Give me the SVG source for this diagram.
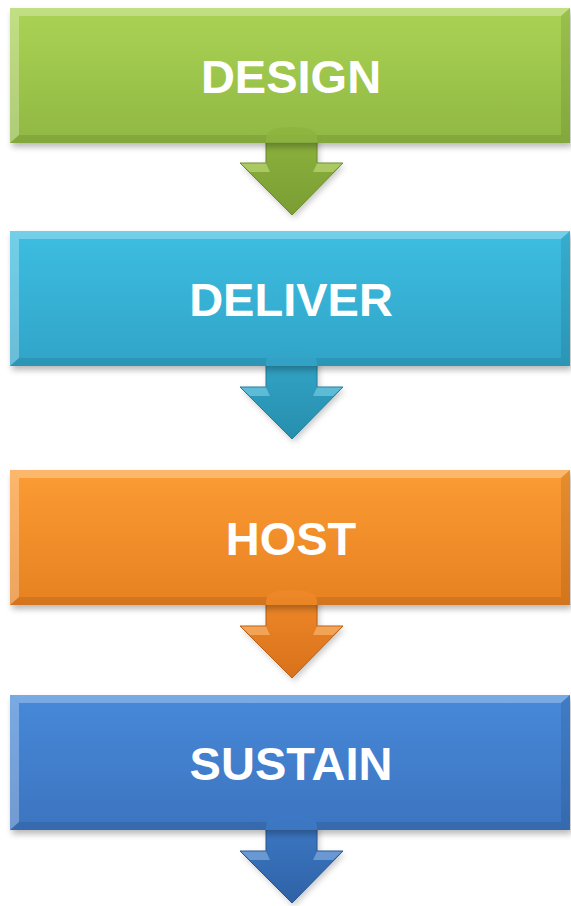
<svg xmlns="http://www.w3.org/2000/svg" width="571" height="906" viewBox="0 0 571 906">
<defs>
<style>
.lbl{font-family:"Liberation Sans",Arial,sans-serif;font-weight:bold;font-size:47px;fill:#ffffff;text-anchor:middle}
.bl{fill:#ffffff;opacity:0.28}
.bd{fill:#000000;opacity:0.09}
</style>
<filter id="sh" x="-10%" y="-20%" width="120%" height="150%">
<feGaussianBlur stdDeviation="3"/>
</filter>
<linearGradient id="gG" x1="0" y1="0" x2="0" y2="1"><stop offset="0" stop-color="#aad355"/><stop offset="1" stop-color="#90b843"/></linearGradient>
<linearGradient id="gC" x1="0" y1="0" x2="0" y2="1"><stop offset="0" stop-color="#3dbee1"/><stop offset="1" stop-color="#30a4c8"/></linearGradient>
<linearGradient id="gO" x1="0" y1="0" x2="0" y2="1"><stop offset="0" stop-color="#fb9c34"/><stop offset="1" stop-color="#e78121"/></linearGradient>
<linearGradient id="gB" x1="0" y1="0" x2="0" y2="1"><stop offset="0" stop-color="#4789d9"/><stop offset="1" stop-color="#3c74bf"/></linearGradient>
<linearGradient id="aG" x1="0" y1="0" x2="0" y2="1"><stop offset="0" stop-color="#8db43f"/><stop offset="1" stop-color="#7b9d33"/></linearGradient>
<linearGradient id="aC" x1="0" y1="0" x2="0" y2="1"><stop offset="0" stop-color="#33a6c9"/><stop offset="1" stop-color="#278ead"/></linearGradient>
<linearGradient id="aO" x1="0" y1="0" x2="0" y2="1"><stop offset="0" stop-color="#f08a2a"/><stop offset="1" stop-color="#d8711a"/></linearGradient>
<linearGradient id="aB" x1="0" y1="0" x2="0" y2="1"><stop offset="0" stop-color="#3d7ac6"/><stop offset="1" stop-color="#2f62a6"/></linearGradient>
<path id="arrow" d="M266,21 L266,-4 Q266,-15 291.5,-15 Q317,-15 317,-4 L317,21 L343,21 L292,73 L240,21 Z"/>
<path id="ahl" d="M241,21.5 L266,21.5 L270,30 L250,30 Z M342,21.5 L317,21.5 L313,30 L333,30 Z"/>
<g id="bevel">
<polygon class="bl" points="0,0 560,0 551,8 9,8"/>
<polygon class="bl" points="0,0 9,8 9,127 0,135" opacity="0.12"/>
<polygon class="bd" points="560,0 560,135 551,127 551,8"/>
<polygon class="bd" points="0,135 560,135 551,127 9,127"/>
</g>
</defs>

<g id="connectors">
<g id="arrow1" transform="translate(0,142)">
<use href="#arrow" transform="translate(2,3)" fill="#000" opacity="0.22" filter="url(#sh)"/>
<use href="#arrow" fill="url(#aG)" stroke="#6d8c2c" stroke-width="1"/>
<use href="#ahl" fill="#d2ea8c" opacity="0.5"/>
</g>
<g id="arrow2" transform="translate(0,366)">
<use href="#arrow" transform="translate(2,3)" fill="#000" opacity="0.22" filter="url(#sh)"/>
<use href="#arrow" fill="url(#aC)" stroke="#237f9b" stroke-width="1"/>
<use href="#ahl" fill="#8fdcf2" opacity="0.5"/>
</g>
<g id="arrow3" transform="translate(0,605)">
<use href="#arrow" transform="translate(2,3)" fill="#000" opacity="0.22" filter="url(#sh)"/>
<use href="#arrow" fill="url(#aO)" stroke="#b85f14" stroke-width="1"/>
<use href="#ahl" fill="#ffc98a" opacity="0.5"/>
</g>
<g id="arrow4" transform="translate(0,830)">
<use href="#arrow" transform="translate(2,3)" fill="#000" opacity="0.22" filter="url(#sh)"/>
<use href="#arrow" fill="url(#aB)" stroke="#285592" stroke-width="1"/>
<use href="#ahl" fill="#9cc2f0" opacity="0.5"/>
</g>
</g>

<g id="design" transform="translate(10,8)">
<rect x="2" y="4" width="560" height="135" fill="#000" opacity="0.28" filter="url(#sh)"/>
<rect width="560" height="135" fill="url(#gG)"/>
<use href="#bevel"/>
<text class="lbl" x="281" y="85">DESIGN</text>
</g>

<g id="deliver" transform="translate(10,231)">
<rect x="2" y="4" width="560" height="135" fill="#000" opacity="0.28" filter="url(#sh)"/>
<rect width="560" height="135" fill="url(#gC)"/>
<use href="#bevel"/>
<text class="lbl" x="281" y="85">DELIVER</text>
</g>

<g id="host" transform="translate(10,470)">
<rect x="2" y="4" width="560" height="135" fill="#000" opacity="0.28" filter="url(#sh)"/>
<rect width="560" height="135" fill="url(#gO)"/>
<use href="#bevel"/>
<text class="lbl" x="281" y="85">HOST</text>
</g>

<g id="sustain" transform="translate(10,695)">
<rect x="2" y="4" width="560" height="135" fill="#000" opacity="0.28" filter="url(#sh)"/>
<rect width="560" height="135" fill="url(#gB)"/>
<use href="#bevel"/>
<text class="lbl" x="281" y="85">SUSTAIN</text>
</g>

<g id="domes">
<path d="M266,142 L266,138 Q266,127 291.5,127 Q317,127 317,138 L317,142 Z" fill="#8db43f" opacity="0.85"/>
<path d="M266,366 L266,362 Q266,351 291.5,351 Q317,351 317,362 L317,366 Z" fill="#32a5c8" opacity="0.85"/>
<path d="M266,605 L266,601 Q266,590 291.5,590 Q317,590 317,601 L317,605 Z" fill="#ee8828" opacity="0.85"/>
<path d="M266,830 L266,826 Q266,815 291.5,815 Q317,815 317,826 L317,830 Z" fill="#3d79c4" opacity="0.85"/>
</g>
</svg>
